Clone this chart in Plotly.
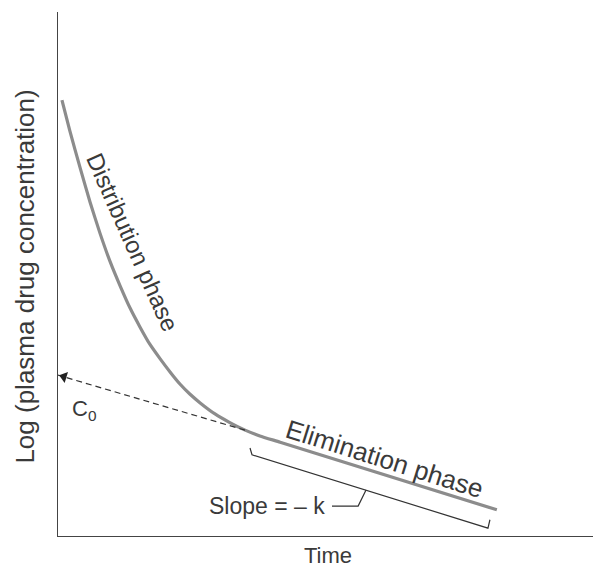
import plotly.graph_objects as go

# distribution + elimination curve (time, log concentration)
time = [0.08, 0.24, 0.45, 0.65, 0.85, 1.05, 1.26, 1.46, 1.66, 1.86, 2.07,
        2.27, 2.47, 2.67, 2.88, 3.18, 3.49, 3.79, 4.09, 4.50, 8.89]
log_conc = [8.32, 7.73, 7.02, 6.37, 5.78, 5.25, 4.77, 4.35, 3.99, 3.66, 3.38,
            3.13, 2.90, 2.71, 2.54, 2.33, 2.16, 2.02, 1.91, 1.79, 0.50]

# back-extrapolated elimination line to C0
extrap_time = [3.79, 0.0]
extrap_conc = [2.02, 3.07]

# bracket under the elimination phase
bracket_time = [3.89, 3.93, 8.71, 8.75]
bracket_conc = [1.68, 1.55, 0.15, 0.31]

# leader from the slope label to the bracket
leader_time = [5.55, 6.08, 6.24]
leader_conc = [0.57, 0.57, 0.88]

FONT = "Liberation Sans, Arial, sans-serif"
TXT = "#3a3a3a"

fig = go.Figure()
fig.add_trace(go.Scatter(x=time, y=log_conc, mode="lines",
                         line=dict(color="#8c8c8c", width=3.2, shape="spline", smoothing=0.5)))
fig.add_trace(go.Scatter(x=extrap_time, y=extrap_conc, mode="lines",
                         line=dict(color="#333", width=1.2, dash="6px,4px")))
# arrow head at C0
fig.add_trace(go.Scatter(x=[extrap_time[1] + 0.12], y=[extrap_conc[1] - 0.03], mode="markers",
                         marker=dict(symbol="triangle-up", size=10, angle=-73, color="#222")))
fig.add_trace(go.Scatter(x=bracket_time, y=bracket_conc, mode="lines", line=dict(color="#333", width=1.2)))
fig.add_trace(go.Scatter(x=leader_time, y=leader_conc, mode="lines", line=dict(color="#333", width=1.2)))

fig.add_annotation(x=0.52, y=2.40, text="C<sub>0</sub>", showarrow=False,
                   font=dict(size=22, color=TXT, family=FONT))
fig.add_annotation(x=1.52, y=5.61, text="Distribution phase", showarrow=False, textangle=66,
                   font=dict(size=24, color=TXT, family=FONT))
fig.add_annotation(x=6.62, y=1.47, text="Elimination phase", showarrow=False, textangle=17.5,
                   font=dict(size=26, color=TXT, family=FONT))
fig.add_annotation(x=5.45, y=0.57, text="Slope = \u2013 k", showarrow=False, xanchor="right",
                   font=dict(size=23, color=TXT, family=FONT))

# axis titles
fig.add_annotation(xref="paper", yref="paper", x=0, y=0.495, xshift=-50, textangle=-90,
                   text="Log (plasma drug concentration)", showarrow=False,
                   font=dict(size=26, color=TXT, family=FONT))
fig.add_annotation(xref="paper", yref="paper", x=0.497, y=0, yanchor="top", yshift=-5,
                   text="Time", showarrow=False, font=dict(size=22, color=TXT, family=FONT))

# page body has an 8px margin, so the figure is 8px smaller than the window
fig.update_layout(
    width=593, height=565,
    margin=dict(l=50, r=0, t=4, b=37),
    paper_bgcolor="white", plot_bgcolor="white",
    showlegend=False,
    font=dict(family=FONT, color=TXT),
)
fig.update_xaxes(range=[0, 11], showline=True, linecolor="#444", linewidth=1.2, showgrid=False,
                 zeroline=False, showticklabels=False, ticks="", automargin=False)
fig.update_yaxes(range=[0, 10], showline=True, linecolor="#444", linewidth=1.2, showgrid=False,
                 zeroline=False, showticklabels=False, ticks="", automargin=False)

fig.write_html("out.html")
